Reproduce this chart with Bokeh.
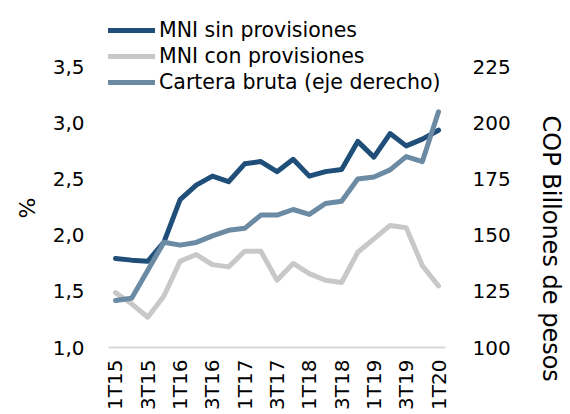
import math
from bokeh.plotting import figure
from bokeh.models import (Range1d, LinearAxis, FixedTicker, CustomJSTickFormatter,
                          Legend, LegendItem, Title, ColumnDataSource)
from bokeh.embed import file_html
from bokeh.resources import INLINE

quarters = ["1T15", "2T15", "3T15", "4T15", "1T16", "2T16", "3T16", "4T16",
            "1T17", "2T17", "3T17", "4T17", "1T18", "2T18", "3T18", "4T18",
            "1T19", "2T19", "3T19", "4T19", "1T20"]
mni_sin = [1.795, 1.78, 1.77, 1.94, 2.32, 2.45, 2.53, 2.48, 2.64, 2.66, 2.57,
           2.68, 2.53, 2.57, 2.59, 2.84, 2.70, 2.91, 2.80, 2.86, 2.94]
mni_con = [1.49, 1.39, 1.27, 1.46, 1.77, 1.83, 1.74, 1.72, 1.86, 1.86, 1.60,
           1.75, 1.66, 1.60, 1.58, 1.85, 1.97, 2.09, 2.07, 1.73, 1.55]
cartera = [121.0, 122.0, 134.5, 147.0, 145.7, 146.9, 149.8, 152.3, 153.2, 159.1,
           159.1, 161.6, 159.4, 164.3, 165.3, 175.2, 176.1, 179.3, 185.2, 183.0, 205.2]
left_ticks = [1.0, 1.5, 2.0, 2.5, 3.0, 3.5]
right_ticks = [100, 125, 150, 175, 200, 225]
series_names = ["MNI sin provisiones", "MNI con provisiones", "Cartera bruta (eje derecho)"]
left_title = "%"
right_title = "COP Billones de pesos"

idx = list(range(len(quarters)))
src = ColumnDataSource(dict(x=idx, sin=mni_sin, con=mni_con, cart=cartera))

FONT = "DejaVu Sans"
C_SIN = "#1F4E79"
C_CON = "#C8C8C8"
C_CART = "#6B8AA3"

p = figure(frame_width=337, frame_height=347, output_backend="svg", toolbar_location=None,
           x_range=Range1d(-0.433, 20.433), y_range=Range1d(1.0, 4.098),
           min_border_left=108, min_border_right=125, min_border_top=0,
           min_border_bottom=67)
p.outline_line_color = None
p.xgrid.visible = False
p.ygrid.visible = False
p.background_fill_color = "white"
p.border_fill_color = "white"

p.extra_y_ranges = {"right": Range1d(100, 254.9)}

# left axis
ya = p.yaxis[0]
ya.ticker = FixedTicker(ticks=left_ticks)
ya.formatter = CustomJSTickFormatter(code="return tick.toFixed(1).replace('.', ',');")
ya.axis_line_color = None
ya.major_tick_line_color = None
ya.minor_tick_line_color = None
ya.major_tick_out = 0
ya.major_label_standoff = 24
ya.major_label_text_font = FONT
ya.major_label_text_font_size = "20px"
ya.major_label_text_color = "black"

# right axis
ra = LinearAxis(y_range_name="right", ticker=FixedTicker(ticks=right_ticks))
ra.axis_line_color = None
ra.major_tick_line_color = None
ra.minor_tick_line_color = None
ra.major_tick_out = 0
ra.major_label_standoff = 27
ra.major_label_text_font = FONT
ra.major_label_text_font_size = "20px"
ra.major_label_text_color = "black"
p.add_layout(ra, "right")

# bottom axis
xa = p.xaxis[0]
xa.ticker = FixedTicker(ticks=idx[::2])
xa.major_label_overrides = {i: quarters[i] for i in idx}
xa.major_label_orientation = math.pi / 2
xa.axis_line_color = "#D9D9D9"
xa.axis_line_width = 2
xa.major_tick_line_color = None
xa.minor_tick_line_color = None
xa.major_tick_out = 0
xa.major_label_standoff = 12
xa.major_label_text_font = FONT
xa.major_label_text_font_size = "20px"
xa.major_label_text_color = "black"

r_con = p.line("x", "con", source=src, color=C_CON, line_width=5,
               line_join="round", line_cap="round")
r_sin = p.line("x", "sin", source=src, color=C_SIN, line_width=5,
               line_join="round", line_cap="round")
r_cart = p.line("x", "cart", source=src, y_range_name="right", color=C_CART,
                line_width=5, line_join="round", line_cap="round")

legend = Legend(items=[LegendItem(label=series_names[0], renderers=[r_sin]),
                       LegendItem(label=series_names[1], renderers=[r_con]),
                       LegendItem(label=series_names[2], renderers=[r_cart])],
                location=(0, 253), orientation="vertical",
                glyph_width=47, glyph_height=20, label_height=20,
                spacing=2, padding=0, margin=0, label_standoff=4,
                border_line_color=None, background_fill_alpha=0,
                label_text_font=FONT, label_text_font_size="20.5px",
                label_text_color="black")
p.add_layout(legend)

p.add_layout(Title(text=left_title, align="left", offset=129, standoff=20,
                   text_font=FONT, text_font_size="22px", text_font_style="normal",
                   text_color="black"), "left")
p.add_layout(Title(text=right_title + "\n", align="left", offset=115, standoff=2,
                   text_line_height=0.8,
                   text_font=FONT, text_font_size="24px", text_font_style="normal",
                   text_color="black"), "right")

open("out.html", "w").write(file_html(p, INLINE))
